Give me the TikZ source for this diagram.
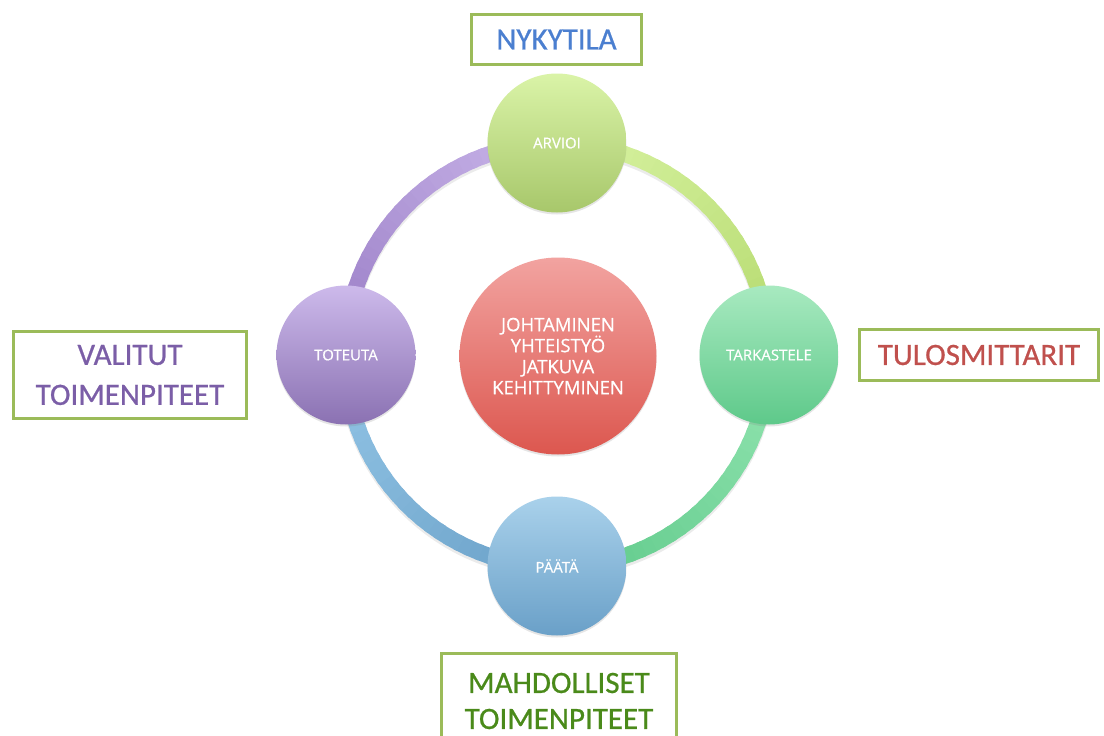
\documentclass[tikz,border=0pt]{standalone}
\usepackage{fontspec}
\setmainfont{Carlito}
\newfontfamily\boxfont{Carlito}[FakeBold=0.7]
\newfontfamily\circfont{Open Sans}[FakeBold=0.6]
\usetikzlibrary{shadows,calc}
\definecolor{limeA}{HTML}{D8F3A3}
\definecolor{limeB}{HTML}{B5DA6E}
\definecolor{grnA}{HTML}{92E4B0}
\definecolor{grnB}{HTML}{5EC98A}
\definecolor{bluA}{HTML}{6AA0C8}
\definecolor{bluB}{HTML}{94C6E6}
\definecolor{purA}{HTML}{9A7EC6}
\definecolor{purB}{HTML}{CAB6EA}
\definecolor{redA}{HTML}{F2A3A0}
\definecolor{redB}{HTML}{DC574F}
\definecolor{boxgreen}{HTML}{9BBB59}
\definecolor{txtblue}{HTML}{4B7FD0}
\definecolor{txtpurple}{HTML}{7B5EA7}
\definecolor{txtred}{HTML}{C0504D}
\definecolor{txtgreen}{HTML}{4A8A1A}
\tikzset{
  stage/.style={circle, minimum size=139pt, inner sep=0pt, text=white,
    font=\circfont\fontsize{15}{18}\selectfont,
    drop shadow={shadow xshift=0pt, shadow yshift=-2pt, opacity=.2}},
  infobox/.style={draw=boxgreen, line width=3pt, fill=white, align=center,
    inner sep=0pt, font=\boxfont\fontsize{31}{36}\selectfont},
  ringseg/.style={line width=16pt}
}
\begin{document}
\begin{tikzpicture}[x=1pt,y=-1pt]
\useasboundingbox (0,0) rectangle (1104,736);
\fill[white] (0,0) rectangle (1104,736);
\coordinate (ring) at (557,355);
% ring shadow
\draw[ringseg, black, opacity=.08] ($(ring)+(0,3)$) circle[radius=212pt];
% ring arcs with colour gradient
\foreach \s/\e/\ca/\cb in {90/0/limeA/limeB, 0/-90/grnA/grnB, -90/-180/bluA/bluB, 180/90/purA/purB}{
  \foreach \i in {0,...,29}{
    \pgfmathsetmacro\a{\s+(\e-\s)*\i/30}
    \pgfmathsetmacro\b{\s+(\e-\s)*(\i+1.4)/30}
    \pgfmathtruncatemacro\p{100*\i/29}
    \draw[ringseg, \cb!\p!\ca] ($(ring)+(\a:212pt)$) arc[start angle=\a, end angle=\b, radius=212pt];
  }
}
% stage circles
\node[stage, top color=limeA!95!white, bottom color=limeB!90!black!95] (arvioi) at (557,143) {ARVIOI};
\node[stage, top color=grnA!80!white, bottom color=grnB] (tarkastele) at (769,355) {TARKASTELE};
\node[stage, top color=bluB!80!white, bottom color=bluA] (paata) at (557,566) {PÄÄTÄ};
\node[stage, top color=purB!95!white, bottom color=purA!90!black] (toteuta) at (346,355) {TOTEUTA};
% centre
\node[circle, minimum size=197pt, inner sep=0pt, text=white, align=center,
  font=\circfont\fontsize{18.5}{21}\selectfont,
  drop shadow={shadow xshift=0pt, shadow yshift=-2pt, opacity=.2},
  top color=redA, bottom color=redB]
  (centre) at (558,356) {JOHTAMINEN\\YHTEISTYÖ\\JATKUVA\\KEHITTYMINEN};
% info boxes
\node[infobox, minimum width=170pt, minimum height=50pt, text=txtblue] (nyky) at (556.5,39.5) {NYKYTILA};
\node[infobox, minimum width=233pt, minimum height=87pt, text=txtpurple, font=\boxfont\fontsize{31}{40}\selectfont] (valitut) at (130,375) {VALITUT\\TOIMENPITEET};
\node[infobox, minimum width=239pt, minimum height=51pt, text=txtred] (tulos) at (979,355) {TULOSMITTARIT};
\node[infobox, minimum width=235pt, minimum height=96pt, text=txtgreen, anchor=north] (mahd) at (559,651.5) {MAHDOLLISET\\TOIMENPITEET};
\end{tikzpicture}
\end{document}
